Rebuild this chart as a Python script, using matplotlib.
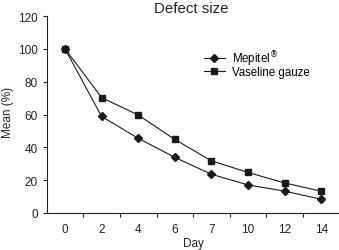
import matplotlib
matplotlib.use("Agg")
import matplotlib.pyplot as plt
import numpy as np

plt.rcParams['font.family'] = ['Liberation Sans', 'DejaVu Sans']

days = ["0", "2", "4", "6", "7", "10", "12", "14"]
mepitel = [100, 58.8, 45.5, 33.9, 23.6, 17.1, 13.3, 8.4]
vaseline = [100, 70.3, 59.7, 44.8, 31.8, 24.7, 18.3, 13.3]
yticks = [0, 20, 40, 60, 80, 100, 120]

W, H = 339, 251
fig = plt.figure(figsize=(W/100, H/100), dpi=100)
ax = fig.add_axes([46.7/W, 37/H, (339.5-46.7)/W, (214-17)/H])

x = np.arange(len(days))
ax.plot(x, mepitel, color='#1a1a1a', lw=0.8, marker='D', ms=4.0,
        label='Mepitel$^{\\circledR}$')
ax.plot(x, vaseline, color='#1a1a1a', lw=0.8, marker='s', ms=4.0,
        label='Vaseline gauze')

ax.set_xlim(-0.5, len(days) - 0.5)
ax.set_ylim(0, 120)
ax.set_yticks(yticks)
ax.set_xticks(x)
ax.set_xticklabels(days)
ax.set_xticks(np.arange(0.5, len(days) - 0.5, 1), minor=True)
ax.tick_params(axis='x', which='major', length=0, labelsize=8.5, pad=7, colors='#222222')
ax.tick_params(axis='x', which='minor', length=3, width=0.8, color='#222222')
ax.tick_params(axis='y', length=3, width=0.8, labelsize=8.5, colors='#222222')

for s in ['top', 'right']:
    ax.spines[s].set_visible(False)
for s in ['left', 'bottom']:
    ax.spines[s].set_linewidth(0.8)
    ax.spines[s].set_color('#222222')

fig.text(191/W, 1 - 9/H, 'Defect size', fontsize=10.8, color='#222222',
         ha='center', va='center')
fig.text(193/W, 1 - 244/H, 'Day', fontsize=8.5, color='#222222',
         ha='center', va='center')
fig.text(8/W, 1 - 112/H, 'Mean (%)', fontsize=8.5, color='#222222',
         ha='center', va='center', rotation=90)

leg = ax.legend(loc='upper left', bbox_to_anchor=(0.537, 0.835), frameon=False,
                fontsize=8.3, handlelength=1.8, handletextpad=0.6,
                labelspacing=-0.12, borderpad=0, borderaxespad=0)

fig.savefig('out.png', dpi=100)
